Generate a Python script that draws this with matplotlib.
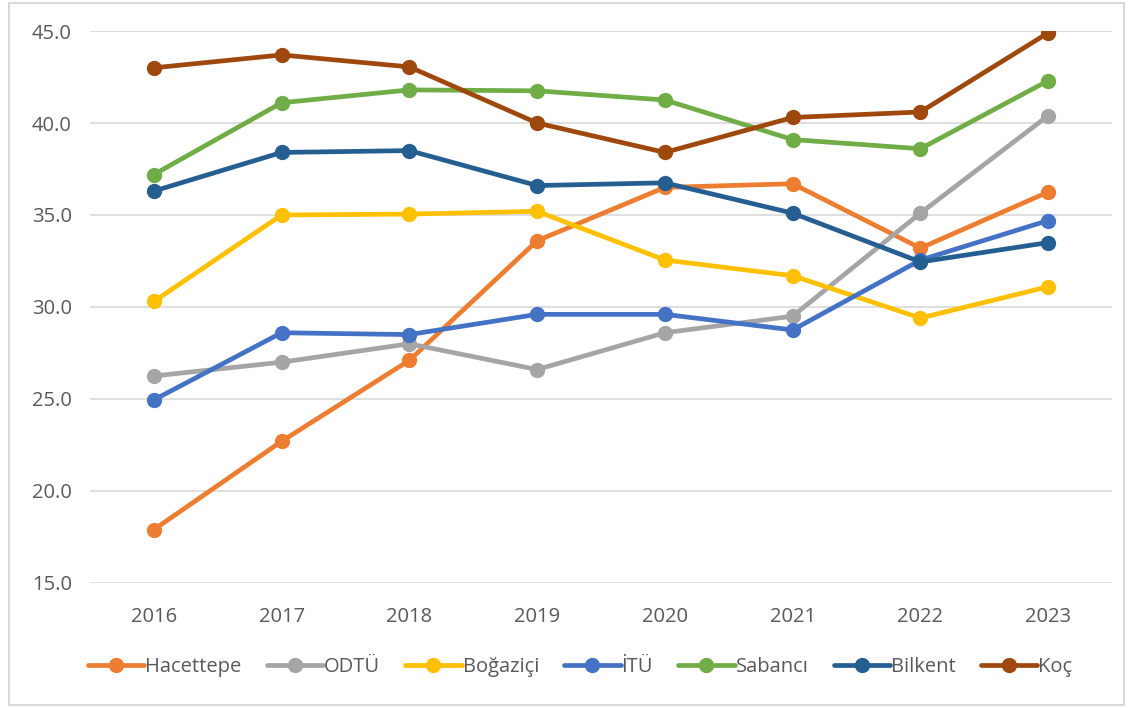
import matplotlib
matplotlib.use("Agg")
import matplotlib.pyplot as plt
from matplotlib.patches import Rectangle

years = ["2016", "2017", "2018", "2019", "2020", "2021", "2022", "2023"]

hacettepe = [17.9, 22.7, 27.1, 33.6, 36.5, 36.7, 33.2, 36.25]
odtu = [26.25, 27.0, 28.0, 26.6, 28.6, 29.5, 35.1, 40.4]
bogazici = [30.3, 35.0, 35.05, 35.2, 32.55, 31.7, 29.4, 31.1]
itu = [24.95, 28.6, 28.5, 29.6, 29.6, 28.75, 32.55, 34.7]
sabanci = [37.2, 41.1, 41.8, 41.75, 41.25, 39.1, 38.6, 42.3]
bilkent = [36.3, 38.4, 38.5, 36.6, 36.75, 35.1, 32.45, 33.5]
koc = [43.0, 43.7, 43.05, 40.0, 38.4, 40.3, 40.6, 44.9]

series = [
    ("Hacettepe", hacettepe, "#ED7D31"),
    ("ODTÜ", odtu, "#A5A5A5"),
    ("Boğaziçi", bogazici, "#FFC000"),
    ("İTÜ", itu, "#4472C4"),
    ("Sabancı", sabanci, "#70AD47"),
    ("Bilkent", bilkent, "#255E91"),
    ("Koç", koc, "#9E480E"),
]

plt.rcParams["font.family"] = ["Open Sans", "DejaVu Sans"]
text_color = "#595959"

fig = plt.figure(figsize=(11.33, 7.08), dpi=100)
fig.patches.append(Rectangle((0.008, 0.004), 0.984, 0.992, transform=fig.transFigure,
                             fill=False, edgecolor="#D9D9D9", linewidth=1.5))
ax = fig.add_axes([0.0794, 0.1766, 0.9021, 0.7796])

x = list(range(len(years)))
for name, vals, color in series:
    ax.plot(x, vals, color=color, linewidth=3.4, marker="o", markersize=10,
            label=name, solid_capstyle="round")

ax.set_xlim(-0.5, len(years) - 0.5)
ax.set_ylim(15, 45)
ax.set_yticks([15, 20, 25, 30, 35, 40, 45])
ax.set_yticklabels([f"{v:.1f}" for v in [15, 20, 25, 30, 35, 40, 45]])
ax.set_xticks(x)
ax.set_xticklabels(years)
ax.grid(axis="y", color="#D9D9D9", linewidth=1.2)
ax.set_axisbelow(True)
for s in ax.spines.values():
    s.set_visible(False)
ax.tick_params(axis="y", length=0, labelsize=14.5, colors=text_color, pad=13)
ax.tick_params(axis="x", length=0, labelsize=14.5, colors=text_color, pad=17)

fig.legend(loc="center", bbox_to_anchor=(0.512, 0.058), ncol=7, frameon=False,
           fontsize=14.5, labelcolor=text_color, handlelength=2.8, handletextpad=0.05,
           columnspacing=1.25)

fig.savefig("out.png", dpi=100)
